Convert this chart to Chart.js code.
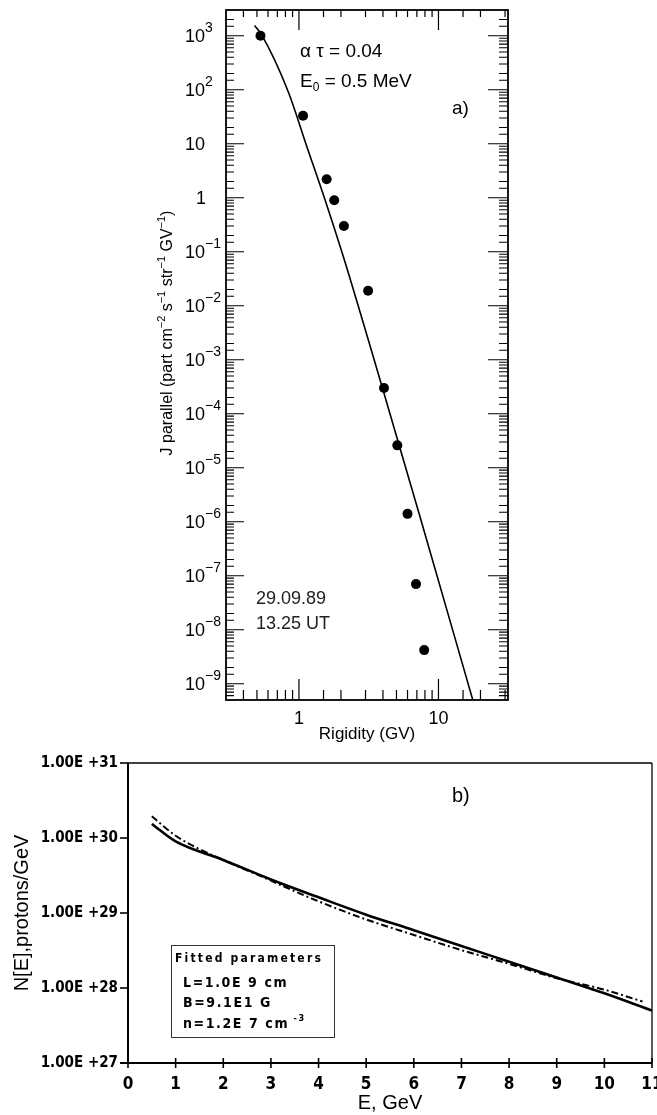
<!DOCTYPE html>
<html lang="en">
<head>
  <meta charset="UTF-8">
  <title>J parallel vs rigidity and fitted proton spectrum</title>
  <style>
    body { margin: 0; background: #fff; }
    #wrapA { position: absolute; left: 0; top: 0; width: 657px; height: 760px; }
    #wrapB { position: absolute; left: 0; top: 740px; width: 657px; height: 375px; }
  </style>
</head>
<body>
  <div id="wrapA"><canvas id="chartA"></canvas></div>
  <div id="wrapB"><canvas id="chartB"></canvas></div>

  <script src="https://cdn.jsdelivr.net/npm/chart.js"></script>
  <script>
    // panel a) measured points
    var rigidity = [0.53, 1.07, 1.58, 1.79, 2.1, 3.13, 4.07, 5.07, 6.0, 6.9, 7.9];
    var jParallel = [1000, 33, 2.2, 0.9, 0.30, 0.019, 3.0e-4, 2.6e-5, 1.4e-6, 7e-8, 4.2e-9];
    // panel a) model curve
    var fitRigidity = [0.48, 0.544, 0.834, 1.14, 1.56, 2.09, 4.03, 7.47, 17.7];
    var fitJ = [1550, 1010, 95, 8.8, 0.82, 0.078, 2.6e-4, 1.1e-6, 4.8e-10];

    // panel b) spectra
    var energy = [0.5, 1, 2, 3, 4, 5, 6, 7, 8, 9, 10, 11];
    var nSolid = [1.54e30, 9.0e29, 5.1e29, 2.8e29, 1.62e29, 9.5e28, 5.9e28, 3.63e28, 2.24e28, 1.38e28, 8.5e27, 5.0e27];
    var energyDash = [0.5, 1, 1.5, 2, 3, 3.5, 4, 5, 6, 7, 8, 9, 10, 10.8];
    var nDash = [1.95e30, 1.07e30, 7.1e29, 5.1e29, 2.7e29, 1.95e29, 1.43e29, 8.2e28, 5.1e28, 3.2e28, 2.1e28, 1.35e28, 9.5e27, 6.6e27];

    var FONT = "'Liberation Sans', Arial, sans-serif";
    var COND = "'DejaVu Sans Condensed', 'Liberation Sans Narrow', 'DejaVu Sans', sans-serif";

    function isDecade(v) {
      var l = Math.log10(v);
      return Math.abs(l - Math.round(l)) < 1e-6;
    }
    function pts(xs, ys) {
      return xs.map(function(x, i) { return {x: x, y: ys[i]}; });
    }
    function line(ctx, x1, y1, x2, y2) {
      ctx.beginPath(); ctx.moveTo(x1, y1); ctx.lineTo(x2, y2); ctx.stroke();
    }
    // parts: [text, rise] ; rise > 0 = superscript, < 0 = subscript
    function richWidth(ctx, parts, base, small, fam, weight) {
      var w = 0;
      parts.forEach(function(p) {
        ctx.font = (weight || '') + ' ' + (p[1] ? small : base) + 'px ' + fam;
        w += ctx.measureText(p[0]).width;
      });
      return w;
    }
    function drawRich(ctx, parts, x, y, base, small, fam, weight) {
      ctx.textAlign = 'left';
      ctx.textBaseline = 'alphabetic';
      parts.forEach(function(p) {
        ctx.font = (weight || '') + ' ' + (p[1] ? small : base) + 'px ' + fam;
        ctx.fillText(p[0], x, y - (p[1] || 0));
        x += ctx.measureText(p[0]).width;
      });
    }

    // frame, inward ticks, labels and notes for panel a
    var decorA = {
      id: 'decorA',
      afterDraw: function(chart) {
        var ctx = chart.ctx, a = chart.chartArea;
        var xs = chart.scales.x, ys = chart.scales.y;
        ctx.save();
        ctx.strokeStyle = '#000';
        ctx.fillStyle = '#000';
        ctx.lineWidth = 1.8;
        ctx.strokeRect(a.left, a.top, a.right - a.left, a.bottom - a.top);

        ctx.lineWidth = 1.2;
        ctx.beginPath();
        xs.ticks.forEach(function(t) {
          var px = xs.getPixelForValue(t.value);
          if (px <= a.left + 2 || px >= a.right - 2) return;
          var major = isDecade(t.value);
          ctx.moveTo(px, a.bottom); ctx.lineTo(px, a.bottom - (major ? 21 : 10));
          ctx.moveTo(px, a.top); ctx.lineTo(px, a.top + (major ? 20 : 7));
        });
        ys.ticks.forEach(function(t) {
          var py = ys.getPixelForValue(t.value);
          if (py <= a.top + 2 || py >= a.bottom - 2) return;
          var major = isDecade(t.value);
          ctx.moveTo(a.left, py); ctx.lineTo(a.left + (major ? 18 : 8), py);
          ctx.moveTo(a.right, py); ctx.lineTo(a.right - (major ? 20 : 9), py);
        });
        ctx.stroke();

        // y tick labels 10^n
        ys.ticks.forEach(function(t) {
          if (!isDecade(t.value)) return;
          var e = Math.round(Math.log10(t.value));
          var py = ys.getPixelForValue(t.value);
          if (e === 0) {
            drawRich(ctx, [['1']], a.left - 30, py + 6.5, 18, 14, FONT);
          } else if (e === 1) {
            drawRich(ctx, [['10']], a.left - 41, py + 6.5, 18, 14, FONT);
          } else {
            var s = e < 0 ? '\u2212' + (-e) : String(e);
            drawRich(ctx, [['10'], [s, 10]], a.left - 41, py + 6.5, 18, 14, FONT);
          }
        });

        // y axis title
        var title = [['J parallel (part cm'], ['\u22122', 7], [' s'], ['\u22121', 7],
                     [' str'], ['\u22121', 7], [' GV'], ['\u22121', 7], [')']];
        var w = richWidth(ctx, title, 16, 11, FONT);
        ctx.save();
        ctx.translate(a.left - 54, (a.top + a.bottom) / 2 - 22);
        ctx.rotate(-Math.PI / 2);
        drawRich(ctx, title, -w / 2, 0, 16, 11, FONT);
        ctx.restore();

        // notes
        drawRich(ctx, [['\u03B1 \u03C4 = 0.04']], a.left + 74, a.top + 47, 19, 13, FONT);
        drawRich(ctx, [['E'], ['0', -4], [' = 0.5 MeV']], a.left + 74, a.top + 77, 19, 12, FONT);
        drawRich(ctx, [['a)']], a.left + 226, a.top + 104, 19, 13, FONT);
        ctx.fillStyle = '#222';
        drawRich(ctx, [['29.09.89']], a.left + 30, a.top + 594, 18, 13, FONT);
        drawRich(ctx, [['13.25 UT']], a.left + 30, a.top + 619, 18, 13, FONT);
        ctx.restore();
      }
    };

    new Chart(document.getElementById('chartA'), {
      type: 'scatter',
      data: {
        datasets: [{
          data: pts(fitRigidity, fitJ),
          showLine: true,
          borderColor: '#000',
          borderWidth: 1.6,
          pointRadius: 0,
          cubicInterpolationMode: 'monotone',
          fill: false
        }, {
          data: pts(rigidity, jParallel),
          pointRadius: 5,
          pointBorderWidth: 0,
          backgroundColor: '#000',
          borderColor: '#000'
        }]
      },
      options: {
        responsive: true,
        maintainAspectRatio: false,
        animation: false,
        layout: { padding: { left: 0, right: 149, top: 10, bottom: 0 } },
        plugins: { legend: { display: false }, tooltip: { enabled: false } },
        scales: {
          x: {
            type: 'logarithmic',
            min: 0.3,
            max: 31.5,
            grid: { display: false, drawTicks: false },
            border: { display: false },
            ticks: {
              autoSkip: false,
              maxRotation: 0,
              padding: 8,
              color: '#000',
              font: { family: FONT, size: 18 },
              callback: function(v) { return (v === 1 || v === 10) ? String(v) : ''; }
            },
            title: {
              display: true,
              text: 'Rigidity (GV)',
              color: '#000',
              font: { family: FONT, size: 17 },
              padding: { top: 0, bottom: 15 }
            },
            afterFit: function(s) { s.height = 60; s.paddingLeft = 0; s.paddingRight = 0; }
          },
          y: {
            type: 'logarithmic',
            min: 5e-10,
            max: 3e3,
            grid: { display: false, drawTicks: false },
            border: { display: false },
            ticks: { display: false, autoSkip: false },
            afterFit: function(s) { s.width = 226; s.paddingTop = 0; s.paddingBottom = 0; }
          }
        }
      },
      plugins: [decorA]
    });

    // axes, ticks, box and notes for panel b
    var decorB = {
      id: 'decorB',
      afterDraw: function(chart) {
        var ctx = chart.ctx, a = chart.chartArea;
        var xs = chart.scales.x, ys = chart.scales.y;
        ctx.save();
        ctx.strokeStyle = '#000';
        ctx.fillStyle = '#000';
        ctx.lineWidth = 2;
        line(ctx, a.left, a.top, a.left, a.bottom);
        line(ctx, a.left - 8, a.bottom, a.right, a.bottom);
        ctx.lineWidth = 1.3;
        line(ctx, a.left, a.top, a.right, a.top);
        line(ctx, a.right, a.top, a.right, a.bottom);

        ctx.lineWidth = 1.6;
        ys.ticks.forEach(function(t) {
          if (!isDecade(t.value)) return;
          var py = ys.getPixelForValue(t.value);
          line(ctx, a.left - 8, py, a.left, py);
        });
        xs.ticks.forEach(function(t) {
          var px = xs.getPixelForValue(t.value);
          line(ctx, px, a.bottom - 5, px, a.bottom + 5);
        });

        drawRich(ctx, [['b)']], a.left + 324, a.top + 39, 20, 13, FONT);

        // fitted parameters box
        ctx.strokeStyle = '#333';
        ctx.lineWidth = 1;
        ctx.strokeRect(a.left + 43.5, a.top + 182.5, 163, 92);
        if ('letterSpacing' in ctx) ctx.letterSpacing = '2.2px';
        drawRich(ctx, [['Fitted parameters']], a.left + 47, a.top + 199, 12, 9, COND, 'bold');
        if ('letterSpacing' in ctx) ctx.letterSpacing = '1.6px';
        drawRich(ctx, [['L=1.0E 9 cm']], a.left + 55, a.top + 224, 14, 9, COND, 'bold');
        drawRich(ctx, [['B=9.1E1 G']], a.left + 55, a.top + 244, 14, 9, COND, 'bold');
        drawRich(ctx, [['n=1.2E 7 cm'], [' -3', 7]], a.left + 55, a.top + 265, 14, 9, COND, 'bold');
        if ('letterSpacing' in ctx) ctx.letterSpacing = '0px';
        ctx.restore();
      }
    };

    new Chart(document.getElementById('chartB'), {
      type: 'scatter',
      data: {
        datasets: [{
          data: pts(energyDash, nDash),
          showLine: true,
          borderColor: '#000',
          borderWidth: 2,
          borderDash: [7, 3, 2, 3],
          pointRadius: 0,
          cubicInterpolationMode: 'monotone',
          fill: false
        }, {
          data: pts(energy, nSolid),
          showLine: true,
          borderColor: '#000',
          borderWidth: 2.6,
          pointRadius: 0,
          cubicInterpolationMode: 'monotone',
          fill: false
        }]
      },
      options: {
        responsive: true,
        maintainAspectRatio: false,
        animation: false,
        layout: { padding: { left: 0, right: 5, top: 23, bottom: 0 } },
        plugins: { legend: { display: false }, tooltip: { enabled: false } },
        scales: {
          x: {
            type: 'linear',
            min: 0,
            max: 11,
            grid: { display: false, drawTicks: false },
            border: { display: false },
            ticks: {
              stepSize: 1,
              autoSkip: false,
              maxRotation: 0,
              padding: 11,
              color: '#000',
              font: { family: COND, size: 17, weight: 'bold' }
            },
            title: {
              display: true,
              text: 'E, GeV',
              color: '#000',
              font: { family: FONT, size: 20 },
              padding: { top: 0, bottom: 0 }
            },
            afterFit: function(s) { s.height = 52; s.paddingLeft = 0; s.paddingRight = 0; }
          },
          y: {
            type: 'logarithmic',
            min: 1e27,
            max: 1e31,
            grid: { display: false, drawTicks: false },
            border: { display: false },
            ticks: {
              autoSkip: false,
              padding: 10,
              color: '#000',
              font: { family: COND, size: 15, weight: 'bold' },
              callback: function(v) { return isDecade(v) ? '1.00E +' + Math.round(Math.log10(v)) : ''; }
            },
            title: {
              display: true,
              text: 'N[E],protons/GeV',
              color: '#000',
              font: { family: FONT, size: 20 },
              padding: { top: 10, bottom: 0 }
            },
            afterFit: function(s) { s.width = 128; s.paddingTop = 0; s.paddingBottom = 0; }
          }
        }
      },
      plugins: [decorB]
    });
  </script>
</body>
</html>
